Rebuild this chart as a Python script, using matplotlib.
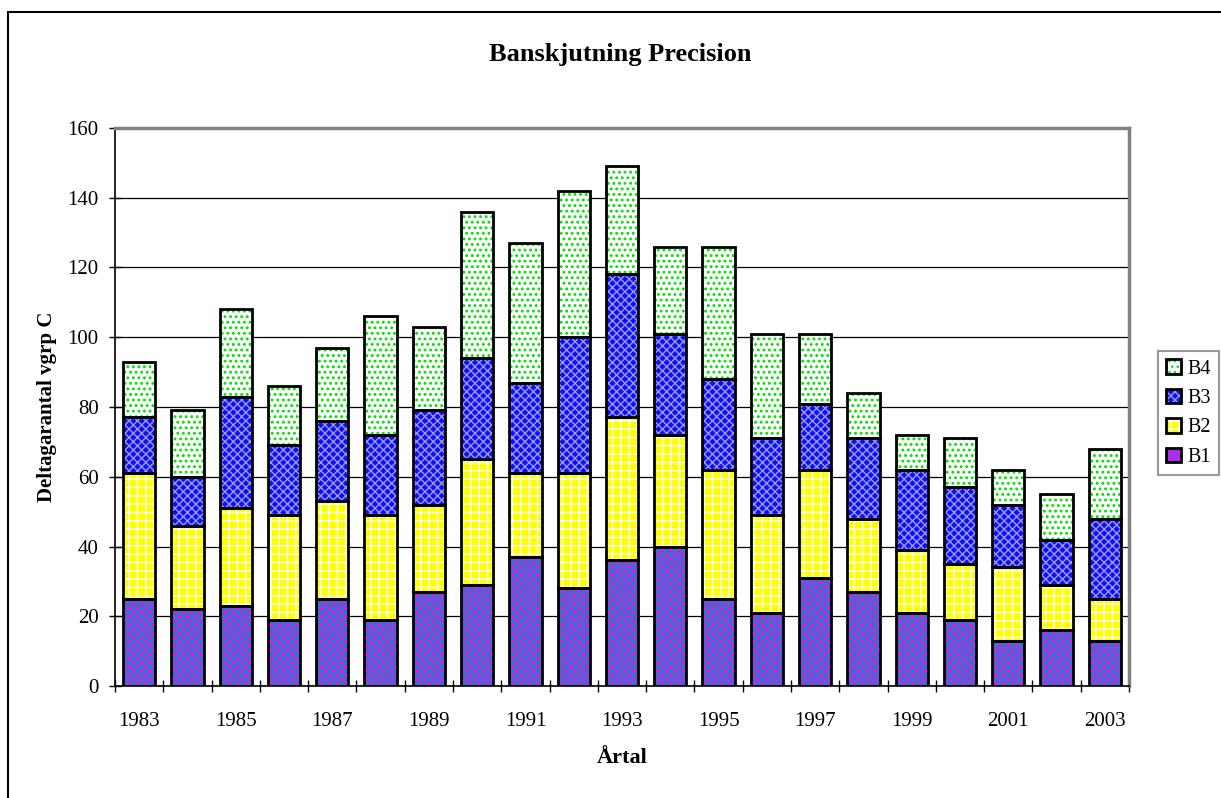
import numpy as np
import matplotlib
matplotlib.use('Agg')
import matplotlib.pyplot as plt
from matplotlib.patches import Rectangle, Patch

plt.rcParams['font.family'] = ['Liberation Serif', 'DejaVu Serif']

########### Data ###############

years = [1983, 1984, 1985, 1986, 1987, 1988, 1989, 1990, 1991, 1992, 1993,
         1994, 1995, 1996, 1997, 1998, 1999, 2000, 2001, 2002, 2003]
b1 = [25, 22, 23, 19, 25, 19, 27, 29, 37, 28, 36, 40, 25, 21, 31, 27, 21, 19, 13, 16, 13]
b2 = [36, 24, 28, 30, 28, 30, 25, 36, 24, 33, 41, 32, 37, 28, 31, 21, 18, 16, 21, 13, 12]
b3 = [16, 14, 32, 20, 23, 23, 27, 29, 26, 39, 41, 29, 26, 22, 19, 23, 23, 22, 18, 13, 23]
b4 = [16, 19, 25, 17, 21, 34, 24, 42, 40, 42, 31, 25, 38, 30, 20, 13, 10, 14, 10, 13, 20]

series = [('B1', b1), ('B2', b2), ('B3', b3), ('B4', b4)]
# face colour, hatch colour, hatch, hatch linewidth
styles = {'B1': ('#FF00FF', '#3A70C8', 'xxxx', 2.0),
          'B2': ('#FFFF00', '#FFFFFF', '++', 1.0),
          'B3': ('#1010F0', '#9A9AF8', 'xxxx', 1.0),
          'B4': ('#FFFFFF', '#00E000', '...', 1.3)}

########### Plot ###############

fig = plt.figure(figsize=(12.21, 7.98), dpi=100)
ax = fig.add_axes([115 / 1221, 1 - 686 / 798, 1014 / 1221, 558 / 798])

x = np.arange(len(years))
bottom = np.zeros(len(years))
handles = []
for name, vals in series:
    fc, hc, hatch, hlw = styles[name]
    vals = np.array(vals)
    with plt.rc_context({'hatch.linewidth': hlw}):
        bars = ax.bar(x, vals, 0.67, bottom=bottom, color=fc, edgecolor=hc,
                      hatch=hatch, linewidth=0, zorder=3)
        h_fill = Patch(facecolor=fc, edgecolor=hc, hatch=hatch, linewidth=0)
    for b in list(bars) + [h_fill]:
        if hasattr(b, 'set_hatch_linewidth'):
            b.set_hatch_linewidth(hlw)
    ax.bar(x, vals, 0.67, bottom=bottom, fill=False, edgecolor='black',
           linewidth=2, zorder=4)
    bottom += vals
    h_edge = Patch(fill=False, edgecolor='black', linewidth=2)
    handles.append((h_fill, h_edge))

ax.set_xlim(-0.5, len(years) - 0.5)
ax.set_ylim(0, 160)
ax.set_yticks(range(0, 161, 20))
ax.set_xticks(np.arange(len(years) + 1) - 0.5)
ax.set_xticklabels([])
ax.set_xticks(x[::2], minor=True)
ax.set_xticklabels([str(y) for y in years[::2]], minor=True)
ax.tick_params(axis='x', which='minor', length=0, pad=19, labelsize=15)
ax.tick_params(axis='x', which='major', direction='inout', length=8.5, width=1)
ax.tick_params(axis='y', direction='inout', length=8.5, width=1, labelsize=15, pad=7.5)

ax.yaxis.grid(True, color='black', linewidth=0.9, zorder=0)
ax.set_axisbelow(True)
for s in ['top', 'right']:
    ax.spines[s].set_color('#808080')
    ax.spines[s].set_linewidth(2.5)
for s in ['left', 'bottom']:
    ax.spines[s].set_color('black')
    ax.spines[s].set_linewidth(1.2)

ax.set_xlabel('Årtal', fontsize=16, fontweight='bold', labelpad=12)
ax.set_ylabel('Deltagarantal vgrp C', fontsize=15, fontweight='bold', labelpad=7.5)
fig.text(620.5 / 1221, 1 - 61 / 798, 'Banskjutning Precision', ha='center',
         va='baseline', fontsize=19, fontweight='bold')

leg = ax.legend(handles[::-1], [n for n, _ in series][::-1],
                loc='lower left', bbox_to_anchor=(1158 / 1221, 1 - 475 / 798),
                bbox_transform=fig.transFigure, fontsize=14.5, frameon=True,
                fancybox=False, edgecolor='#808080', handlelength=0.75,
                handleheight=0.75, handletextpad=0.3, borderpad=0.4,
                labelspacing=0.5, borderaxespad=0)
leg.get_frame().set_linewidth(1.5)

fig.patches.append(Rectangle((8 / 1221, -0.1), 1.2, 1.1 - 12 / 798,
                             transform=fig.transFigure, fill=False,
                             edgecolor='black', linewidth=1.5))

fig.savefig('out.png', dpi=100)
